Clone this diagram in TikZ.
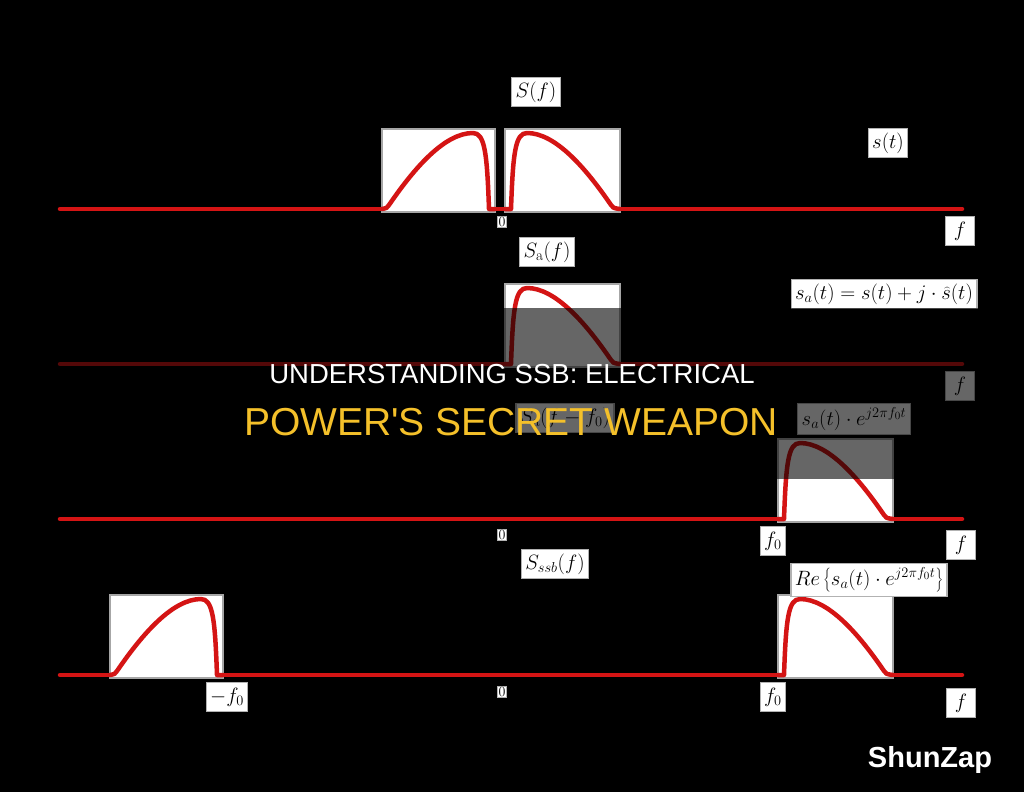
\documentclass[tikz,border=0pt]{standalone}
\usepackage{fontspec}
\newfontfamily\titlefont{Liberation Sans}
\begin{document}
\begin{tikzpicture}[x=1pt, y=-1pt, line cap=round,
    sig/.style={draw=sigred, line width=4.5, line join=round},
    specbox/.style={fill=white, draw=gray!70, line width=1.5},
    lbl/.style={fill=white, draw=gray!60, line width=1.2, inner sep=4pt, minimum height=29,
      font=\fontsize{22}{25}\selectfont},
    flbl/.style={lbl, minimum width=29},
    zlbl/.style={fill=white, draw=gray!60, line width=1, inner sep=1pt, font=\fontsize{14}{15}\selectfont}]
  \definecolor{sigred}{HTML}{D41414}
  \definecolor{titleyel}{HTML}{F4C02A}
  % background
  \fill[black] (0,0) rectangle (1024,792);
  \useasboundingbox (0,0) rectangle (1024,792);
  % frequency axes
  \foreach \y in {209,364,519,675} \draw[sig] (60,\y) -- (962,\y);
  % upper sidebands
  \foreach \bx/\by in {505/209,505/364,778/519,778/675} {
    \draw[specbox] (\bx,\by+3) rectangle ++(115,-83);
    \draw[sig, shift={(\bx,\by)}] (0,0) -- (6,0) .. controls (8,-55) and (10,-76) .. (22,-76)
      .. controls (50,-76) and (80,-42) .. (106,-4) .. controls (108,-1) .. (115,0);
  }
  % lower sidebands
  \foreach \bx/\by in {495/209,223/675} {
    \draw[specbox] (\bx,\by+3) rectangle ++(-113,-83);
    \draw[sig, shift={(\bx,\by)}, xscale=-1] (0,0) -- (6,0) .. controls (8,-55) and (10,-76) .. (22,-76)
      .. controls (50,-76) and (80,-42) .. (106,-4) .. controls (108,-1) .. (113,0);
  }
  % labels
  \node[lbl] (Sf) at (536,92) {$S(f)$};
  \node[lbl] (st) at (888,143) {$s(t)$};
  \node[zlbl] (zero1) at (502,222) {0};
  \node[flbl] (f1) at (960,231) {$f$};
  \node[lbl] (Saf) at (547,252) {$S_{\mathrm{a}}(f)$};
  \node[lbl] (sat) at (884,294) {$s_a(t) = s(t) + j\cdot\widehat{s}(t)$};
  \node[flbl] (f2) at (960,386) {$f$};
  \node[lbl] (Saff) at (565,418) {$S_{\mathrm{a}}(f-f_0)$};
  \node[lbl] (mod) at (854,419) {$s_a(t)\cdot e^{j2\pi f_0 t}$};
  \node[zlbl] (zero3) at (502,535) {0};
  \node[lbl] (f03) at (773,541) {$f_0$};
  \node[flbl] (f3) at (961,545) {$f$};
  \node[lbl] (Sssb) at (555,564) {$S_{ssb}(f)$};
  \node[lbl] (re) at (869,580) {$Re\left\{s_a(t)\cdot e^{j2\pi f_0 t}\right\}$};
  \node[lbl] (mf0) at (227,697) {$-f_0$};
  \node[zlbl] (zero4) at (502,692) {0};
  \node[lbl] (f04) at (773,697) {$f_0$};
  \node[flbl] (f4) at (961,703) {$f$};
  % title band
  \fill[black, opacity=0.6] (0,308) rectangle (1024,479);
  \node[anchor=base, text=white, font=\titlefont\fontsize{27.5}{30}\selectfont] (title1) at (512,383) {UNDERSTANDING SSB: ELECTRICAL};
  \node[anchor=base, text=titleyel, font=\titlefont\fontsize{39}{42}\selectfont] (title2) at (511,435) {POWER'S SECRET WEAPON};
  \node[anchor=base, text=white, font=\titlefont\bfseries\fontsize{29}{32}\selectfont] (mark) at (930,767) {ShunZap};
\end{tikzpicture}
\end{document}
